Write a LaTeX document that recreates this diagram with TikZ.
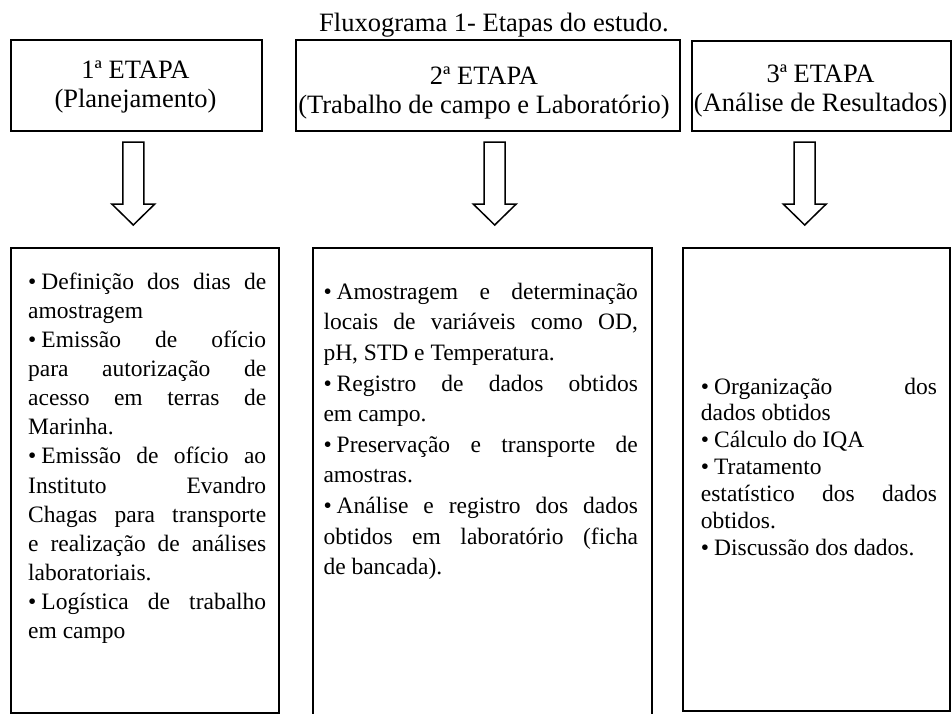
\documentclass[tikz,border=0pt]{standalone}
\usepackage{fontspec}
\setmainfont{Liberation Serif}
\newcommand\jrow[1]{\hbox to\hsize{#1}}
\newcommand\lrow[1]{\hbox{#1}}
\newcommand\bul{\textbullet\kern5pt}
\newcommand\headstack[2]{\vtop{\hsize=420pt\parindent=0pt\fontsize{26.5}{29.5}\selectfont\centering #1\par #2\par}}
\tikzset{
  frame/.style={draw=black, line width=2.2pt, rectangle, inner sep=0pt, anchor=north west},
  blockarr/.style={draw=black, fill=white, line width=1.5pt, line join=miter},
  ttl/.style={inner sep=0pt, anchor=base, font=\fontsize{26.5}{30}\selectfont},
  htext/.style={inner sep=0pt, anchor=base},
  btext/.style={inner sep=0pt, anchor=base west},
}
\begin{document}
\begin{tikzpicture}[x=1pt,y=-1pt]
\useasboundingbox (0,0) rectangle (952,713);
% title
\node[ttl] (title) at (494,31.7) {Fluxograma 1- Etapas do estudo.};
% heading boxes
\node[frame, minimum width=251pt, minimum height=91pt] (h1) at (10,39) {};
\node[frame, minimum width=384pt, minimum height=91pt] (h2) at (295,39) {};
\node[frame, minimum width=259pt, minimum height=90pt] (h3) at (691,40) {};
\node[htext] (h1t) at (135.5,78) {\headstack{1ª ETAPA}{(Planejamento)}};
\node[htext] (h2t) at (484,84) {\headstack{2ª ETAPA}{(Trabalho de campo e Laboratório)}};
\node[htext] (h3t) at (820.5,82) {\headstack{3ª ETAPA}{(Análise de Resultados)}};
% block arrows
\coordinate (a1) at (133.3,142);
\coordinate (a2) at (494.7,142);
\coordinate (a3) at (804.7,142);
\foreach \a in {a1,a2,a3}{
  \draw[blockarr, shift={(\a)}] (-10.5,0) -- (10.5,0) -- (10.5,62) -- (21.5,62) -- (0,83) -- (-21.5,62) -- (-10.5,62) -- cycle;
}
% content boxes
\node[frame, minimum width=268pt, minimum height=465pt] (b1) at (10,247) {};
\node[frame, minimum width=339pt, minimum height=470pt] (b2) at (312,247) {};
\node[frame, minimum width=267pt, minimum height=463pt] (b3) at (682,247) {};
% content texts
\node[btext] (t1) at (28,289.3) {\vtop{\hsize=238pt\fontsize{23.5}{29.1}\selectfont
 \jrow{\bul Definição dos dias de}
 \lrow{amostragem}
 \jrow{\bul Emissão de ofício}
 \jrow{para autorização de}
 \jrow{acesso em terras de}
 \lrow{Marinha.}
 \jrow{\bul Emissão de ofício ao}
 \jrow{Instituto Evandro}
 \jrow{Chagas para transporte}
 \jrow{e realização de análises}
 \lrow{laboratoriais.}
 \jrow{\bul Logística de trabalho}
 \lrow{em campo}}};
\node[btext] (t2) at (323.3,299.3) {\vtop{\hsize=314.4pt\fontsize{23.5}{30.6}\selectfont
 \jrow{\bul Amostragem e determinação}
 \jrow{locais de variáveis como OD,}
 \lrow{pH, STD e Temperatura.}
 \jrow{\bul Registro de dados obtidos}
 \lrow{em campo.}
 \jrow{\bul Preservação e transporte de}
 \lrow{amostras.}
 \jrow{\bul Análise e registro dos dados}
 \jrow{obtidos em laboratório (ficha}
 \lrow{de bancada).}}};
\node[btext] (t3) at (700.7,394) {\vtop{\hsize=236pt\fontsize{23.5}{26.9}\selectfont
 \jrow{\bul Organização dos}
 \lrow{dados obtidos}
 \lrow{\bul Cálculo do IQA}
 \lrow{\bul Tratamento}
 \jrow{estatístico dos dados}
 \lrow{obtidos.}
 \lrow{\bul Discussão dos dados.}}};
\end{tikzpicture}
\end{document}
